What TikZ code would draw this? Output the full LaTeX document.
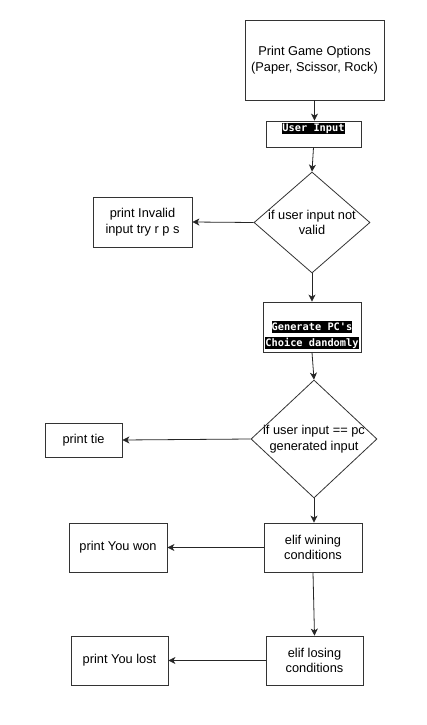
\documentclass[tikz,border=0pt]{standalone}
\usepackage{fontspec}
\setmainfont{Liberation Sans}
\newfontfamily\codefont{DejaVu Sans Mono}
\usetikzlibrary{shapes.geometric,arrows.meta}
\newcommand\hlcode[1]{{\setlength{\fboxsep}{0pt}\colorbox{black}{\rule[-2.6pt]{0pt}{11.6pt}\textcolor{white}{#1}}}}
\begin{document}
\begin{tikzpicture}[x=1pt,y=-1pt,
  every node/.style={font=\fontsize{12.8}{15.6}\selectfont},
  pbox/.style={draw=black!80, line width=0.8pt, rectangle, inner sep=0pt, align=center},
  dec/.style={draw=black!80, line width=0.8pt, diamond, inner sep=0pt},
  code/.style={font=\codefont\bfseries\fontsize{10.3}{16}\selectfont, align=center, inner sep=0pt},
  arr/.style={draw=black!85, line width=0.8pt, -{Stealth[length=7pt,width=7pt,inset=2pt]}}
]
\fill[white] (0,0) rectangle (427,725);
\useasboundingbox (0,0) rectangle (427,725);

\node[pbox, minimum width=139pt, minimum height=80pt] (opts) at (314.5,60) {Print Game Options\\(Paper, Scissor, Rock)};
\node[pbox, minimum width=95pt, minimum height=26pt,
  label={[code, anchor=north, yshift=-2pt]north:\hlcode{User Input}}] (ui) at (313.5,134) {};
\node[dec, minimum width=116pt, minimum height=101pt,
  label={[align=center, inner sep=0pt]center:if user input not\\valid}] (d1) at (312,222.5) {};
\node[pbox, minimum width=99pt, minimum height=50pt] (inv) at (142.5,222) {print Invalid\\input try r p s};
\node[pbox, minimum width=98pt, minimum height=50pt,
  label={[code, yshift=-8pt]center:\hlcode{Generate PC\textquotesingle s}\\\hlcode{Choice dandomly}}] (gen) at (312,327) {};
\node[dec, minimum width=126pt, minimum height=118pt,
  label={[align=center, inner sep=0pt]center:if user input == pc\\generated input}] (d2) at (314,439) {};
\node[pbox, minimum width=77pt, minimum height=34pt] (tie) at (83.5,440) {print tie};
\node[pbox, minimum width=98pt, minimum height=49pt] (win) at (313,547.5) {elif wining\\conditions};
\node[pbox, minimum width=98pt, minimum height=49pt] (won) at (118,547.5) {print You won};
\node[pbox, minimum width=97pt, minimum height=49pt] (lose) at (314.5,660.5) {elif losing\\conditions};
\node[pbox, minimum width=97pt, minimum height=49pt] (lost) at (119.5,660.5) {print You lost};

\draw[arr] (opts.south) -- (ui.north -| opts.south);
\draw[arr] (ui.south) -- (d1.north);
\draw[arr] (d1.west) -- (inv.east);
\draw[arr] (d1.south) -- (gen.north);
\draw[arr] (gen.south) -- (d2.north);
\draw[arr] (d2.west) -- (tie.east);
\draw[arr] (d2.south) -- (win.north -| d2.south);
\draw[arr] (win.west) -- (won.east);
\draw[arr] (win.south) -- (lose.north);
\draw[arr] (lose.west) -- (lost.east);
\end{tikzpicture}
\end{document}
